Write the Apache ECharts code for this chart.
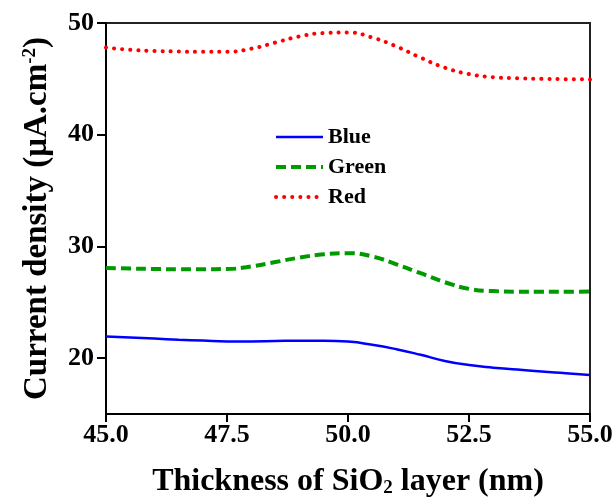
<!DOCTYPE html>
<html>
<head>
<meta charset="utf-8">
<script src="https://cdn.jsdelivr.net/npm/echarts@6/dist/echarts.min.js"></script>
<style>
  html, body { margin: 0; padding: 0; background: #fff; }
  #main { width: 614px; height: 499px; }
</style>
</head>
<body>
<div id="main"></div>
<script>
// thickness values (nm)
var thickness = [45, 45.5, 46, 46.5, 47, 47.5, 48, 48.5, 49, 49.5, 50,
                 50.5, 51, 51.5, 52, 52.5, 53, 53.5, 54, 54.5, 55];
// current density
var blueVals  = [21.94, 21.85, 21.75, 21.65, 21.57, 21.5, 21.5, 21.53, 21.56, 21.56, 21.48,
                 21.2, 20.8, 20.3, 19.75, 19.38, 19.15, 18.98, 18.8, 18.65, 18.49];
var greenVals = [28.07, 28.02, 27.98, 27.96, 27.96, 27.98, 28.2, 28.6, 29.0, 29.3, 29.4,
                 29.1, 28.4, 27.6, 26.8, 26.2, 26.0, 25.95, 25.95, 25.95, 25.96];
var redVals   = [47.8, 47.6, 47.5, 47.45, 47.42, 47.43, 47.7, 48.25, 48.8, 49.1, 49.15,
                 48.7, 47.9, 46.9, 46.0, 45.43, 45.15, 45.05, 45.0, 44.97, 44.95];
var seriesNames = ['Blue', 'Green', 'Red'];
var yTicks = [20, 30, 40, 50];

var font = 'Liberation Serif, Times New Roman, serif';

var lineStyles = {
    Blue:  { color: '#0000ff', width: 2.5, type: 'solid' },
    Green: { color: '#009900', width: 4, type: [10, 5] },
    Red:   { color: '#ff0000', width: 4, type: [0.1, 8], cap: 'round' }
};

function pairs(vals) {
    return thickness.map(function (x, i) { return [x, vals[i]]; });
}

function makeSeries(name, vals) {
    return {
        name: name, type: 'line', smooth: true, showSymbol: false, symbol: 'none',
        data: pairs(vals),
        lineStyle: lineStyles[name],
        itemStyle: { color: lineStyles[name].color }
    };
}

var myChart = echarts.init(document.getElementById('main'));

var option = {
    animation: false,
    backgroundColor: '#fff',
    grid: {
        left: 106, right: 24, top: 23, bottom: 85,
        outerBoundsMode: 'none',
        containLabel: false,
        show: true,
        borderColor: '#222',
        borderWidth: 2
    },
    legend: {
        orient: 'vertical',
        left: 269,
        top: 121,
        itemWidth: 47,
        itemHeight: 14,
        itemGap: 8,
        data: seriesNames.map(function (n) {
            return { name: n, lineStyle: lineStyles[n] };
        }),
        itemStyle: { opacity: 0 },
        textStyle: { fontFamily: font, fontWeight: 'bold', fontSize: 22, color: '#000' }
    },
    xAxis: {
        type: 'value',
        min: 45, max: 55, interval: 2.5,
        name: '{a|Thickness of SiO}{b|2}{a| layer (nm)}',
        nameLocation: 'middle',
        nameGap: 52,
        nameTextStyle: {
            rich: {
                a: { fontFamily: font, fontWeight: 'bold', fontSize: 32, color: '#000' },
                b: { fontFamily: font, fontWeight: 'bold', fontSize: 19, color: '#000', verticalAlign: 'bottom' }
            }
        },
        splitLine: { show: false },
        axisLine: { lineStyle: { color: '#000', width: 2 } },
        axisTick: { inside: false, length: 8, lineStyle: { color: '#000', width: 2 } },
        axisLabel: {
            fontFamily: font, fontWeight: 'bold', fontSize: 26, color: '#000', margin: 8,
            formatter: function (v) { return v.toFixed(1); }
        }
    },
    yAxis: {
        type: 'value',
        min: 15, max: 50,
        name: '{a|Current density (μA.cm}{s|-2}{a|)}',
        nameLocation: 'middle',
        nameGap: 52,
        nameTextStyle: {
            rich: {
                a: { fontFamily: font, fontWeight: 'bold', fontSize: 33, color: '#000' },
                s: { fontFamily: font, fontWeight: 'bold', fontSize: 19, color: '#000', verticalAlign: 'top' }
            }
        },
        splitLine: { show: false },
        axisLine: { lineStyle: { color: '#000', width: 2 } },
        axisTick: { inside: false, length: 9, customValues: yTicks, lineStyle: { color: '#000', width: 2 } },
        axisLabel: {
            fontFamily: font, fontWeight: 'bold', fontSize: 26, color: '#000', margin: 12,
            customValues: yTicks
        }
    },
    series: [
        makeSeries('Blue', blueVals),
        makeSeries('Green', greenVals),
        makeSeries('Red', redVals)
    ]
};

myChart.setOption(option);
</script>
</body>
</html>
